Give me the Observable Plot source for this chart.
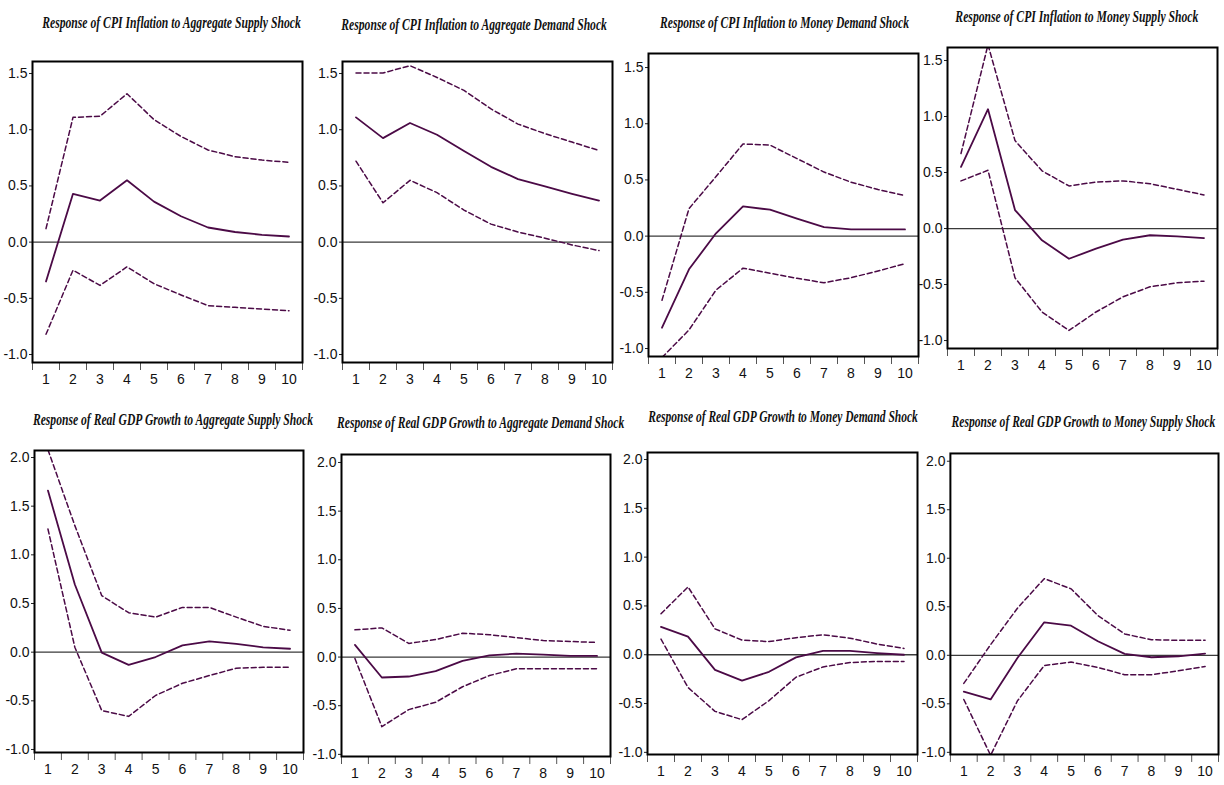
<!DOCTYPE html>
<html>
<head>
<meta charset="utf-8">
<script src="https://cdn.jsdelivr.net/npm/d3@7"></script>
<script src="https://cdn.jsdelivr.net/npm/@observablehq/plot@0.6"></script>
<style>
  html, body { margin: 0; padding: 0; background: #fff; }
  #root { position: relative; width: 1224px; height: 785px; overflow: hidden; background: #fff; }
  .panel { position: absolute; }
  .title {
    position: absolute; white-space: nowrap;
    font-family: "Liberation Serif", "Times New Roman", serif;
    font-weight: bold; font-style: italic; font-size: 17px; line-height: 17px;
    color: #111;
  }
</style>
</head>
<body>
<div id="root"></div>
<script>
// ---------- data ----------
const horizons = [1, 2, 3, 4, 5, 6, 7, 8, 9, 10];

const cpiTicks = [-1.0, -0.5, 0.0, 0.5, 1.0, 1.5];
const gdpTicks = [-1.0, -0.5, 0.0, 0.5, 1.0, 1.5, 2.0];
const xTickBounds = [0.5, 1.5, 2.5, 3.5, 4.5, 5.5, 6.5, 7.5, 8.5, 9.5, 10.5];

const titles = [
  "Response of CPI Inflation to Aggregate Supply Shock",
  "Response of CPI Inflation to Aggregate Demand Shock",
  "Response of CPI Inflation to Money Demand Shock",
  "Response of CPI Inflation to Money Supply Shock",
  "Response of Real GDP Growth to Aggregate Supply Shock",
  "Response of Real GDP Growth to Aggregate Demand Shock",
  "Response of Real GDP Growth to Money Demand Shock",
  "Response of Real GDP Growth to Money Supply Shock"
];

// CPI inflation responses
const cpiAS_resp = [-0.35, 0.43, 0.37, 0.55, 0.36, 0.23, 0.13, 0.09, 0.065, 0.05];
const cpiAS_up   = [0.12, 1.11, 1.12, 1.32, 1.09, 0.94, 0.82, 0.76, 0.73, 0.71];
const cpiAS_lo   = [-0.82, -0.25, -0.385, -0.22, -0.37, -0.47, -0.565, -0.58, -0.595, -0.61];

const cpiAD_resp = [1.11, 0.925, 1.06, 0.955, 0.81, 0.67, 0.56, 0.495, 0.43, 0.37];
const cpiAD_up   = [1.505, 1.505, 1.57, 1.465, 1.35, 1.185, 1.05, 0.965, 0.89, 0.815];
const cpiAD_lo   = [0.72, 0.35, 0.55, 0.44, 0.285, 0.16, 0.09, 0.035, -0.025, -0.075];

const cpiMD_resp = [-0.815, -0.295, 0.025, 0.265, 0.235, 0.155, 0.08, 0.06, 0.06, 0.06];
const cpiMD_up   = [-0.57, 0.245, 0.53, 0.82, 0.81, 0.69, 0.57, 0.48, 0.415, 0.36];
const cpiMD_lo   = [-1.08, -0.835, -0.48, -0.285, -0.33, -0.375, -0.415, -0.37, -0.31, -0.245];

const cpiMS_resp = [0.55, 1.065, 0.165, -0.105, -0.27, -0.18, -0.1, -0.06, -0.07, -0.085];
const cpiMS_up   = [0.67, 1.64, 0.785, 0.515, 0.38, 0.415, 0.425, 0.4, 0.35, 0.3];
const cpiMS_lo   = [0.425, 0.52, -0.44, -0.745, -0.91, -0.745, -0.61, -0.52, -0.485, -0.47];

// Real GDP growth responses
const gdpAS_resp = [1.66, 0.695, -0.005, -0.13, -0.05, 0.07, 0.11, 0.085, 0.05, 0.035];
const gdpAS_up   = [2.08, 1.3, 0.58, 0.405, 0.36, 0.46, 0.46, 0.36, 0.265, 0.225];
const gdpAS_lo   = [1.265, 0.05, -0.6, -0.66, -0.445, -0.32, -0.24, -0.165, -0.155, -0.155];

const gdpAD_resp = [0.125, -0.21, -0.2, -0.145, -0.04, 0.018, 0.035, 0.025, 0.012, 0.012];
const gdpAD_up   = [0.28, 0.3, 0.14, 0.18, 0.245, 0.23, 0.2, 0.17, 0.16, 0.15];
const gdpAD_lo   = [-0.015, -0.715, -0.54, -0.465, -0.305, -0.19, -0.12, -0.12, -0.12, -0.12];

const gdpMD_resp = [0.285, 0.185, -0.155, -0.265, -0.175, -0.027, 0.04, 0.04, 0.017, 0.0];
const gdpMD_up   = [0.42, 0.695, 0.265, 0.15, 0.135, 0.175, 0.205, 0.17, 0.11, 0.065];
const gdpMD_lo   = [0.16, -0.335, -0.58, -0.665, -0.47, -0.23, -0.125, -0.08, -0.068, -0.068];

const gdpMS_resp = [-0.375, -0.455, -0.027, 0.34, 0.305, 0.145, 0.015, -0.02, -0.01, 0.018];
const gdpMS_up   = [-0.29, 0.11, 0.485, 0.79, 0.685, 0.41, 0.22, 0.16, 0.155, 0.155];
const gdpMS_lo   = [-0.455, -1.03, -0.47, -0.105, -0.07, -0.125, -0.2, -0.2, -0.16, -0.115];

// ---------- layout (pixel geometry of each panel) ----------
const layout = [
  {frame: [32, 61, 302, 362],   title: [172, 23, 259],  dom: [-1.071, 1.607], ticks: cpiTicks},
  {frame: [342, 61, 612, 362],  title: [474, 25, 266],  dom: [-1.071, 1.607], ticks: cpiTicks},
  {frame: [648, 53, 918, 356],  title: [785, 23, 249],  dom: [-1.071, 1.625], ticks: cpiTicks},
  {frame: [947, 47, 1217, 348], title: [1077, 17, 243], dom: [-1.071, 1.616], ticks: cpiTicks},
  {frame: [34, 450, 303, 752],  title: [173, 420, 281], dom: [-1.031, 2.072], ticks: gdpTicks},
  {frame: [341, 454, 610, 756], title: [481, 423, 288], dom: [-1.022, 2.082], ticks: gdpTicks},
  {frame: [647, 452, 917, 754], title: [783, 417, 270], dom: [-1.022, 2.072], ticks: gdpTicks},
  {frame: [950, 453, 1219, 755],title: [1084, 422, 264], dom: [-1.022, 2.080], ticks: gdpTicks}
];

const series = [
  [cpiAS_resp, cpiAS_up, cpiAS_lo],
  [cpiAD_resp, cpiAD_up, cpiAD_lo],
  [cpiMD_resp, cpiMD_up, cpiMD_lo],
  [cpiMS_resp, cpiMS_up, cpiMS_lo],
  [gdpAS_resp, gdpAS_up, gdpAS_lo],
  [gdpAD_resp, gdpAD_up, gdpAD_lo],
  [gdpMD_resp, gdpMD_up, gdpMD_lo],
  [gdpMS_resp, gdpMS_up, gdpMS_lo]
];

const lineColor = "#4b0a46";
const root = document.getElementById("root");
const canvas = document.createElement("canvas");
const ctx = canvas.getContext("2d");
ctx.font = 'italic bold 17px "Liberation Serif", "Times New Roman", serif';

const mL = 34, mT = 12, mR = 6, mB = 30;

layout.forEach((L, i) => {
  const [fx0, fy0, fx1, fy1] = L.frame;
  const [resp, up, lo] = series[i];
  const toRows = arr => horizons.map((h, k) => ({h, v: arr[k]}));

  const plot = Plot.plot({
    width: (fx1 - fx0) + mL + mR,
    height: (fy1 - fy0) + mT + mB,
    marginLeft: mL, marginTop: mT, marginRight: mR, marginBottom: mB,
    style: {fontFamily: '"Liberation Sans Narrow", "Arial Narrow", "Liberation Sans", sans-serif', fontSize: "14px", color: "#111", background: "transparent", overflow: "visible"},
    x: {domain: [0.5, 10.5], axis: null},
    y: {domain: L.dom, axis: null},
    marks: [
      Plot.ruleY([0], {stroke: "#3a3a3a", strokeWidth: 1.3}),
      Plot.line(toRows(up), {x: "h", y: "v", stroke: lineColor, strokeWidth: 1.5, strokeDasharray: "5,3", clip: true}),
      Plot.line(toRows(lo), {x: "h", y: "v", stroke: lineColor, strokeWidth: 1.5, strokeDasharray: "5,3", clip: true}),
      Plot.line(toRows(resp), {x: "h", y: "v", stroke: lineColor, strokeWidth: 1.8, clip: true}),
      Plot.axisY({ticks: L.ticks, tickFormat: d => d.toFixed(1), tickSize: 3, tickPadding: 2, stroke: "#222", fill: "#111", label: null}),
      Plot.axisX({ticks: xTickBounds, tickFormat: () => "", tickSize: 8, stroke: "#555", label: null}),
      Plot.axisX({ticks: horizons, tickFormat: d => String(d), tickSize: 0, tickPadding: 12, fill: "#111", label: null}),
      Plot.frame({stroke: "#000", strokeWidth: 2})
    ]
  });

  const wrap = document.createElement("div");
  wrap.className = "panel";
  wrap.style.left = (fx0 - mL) + "px";
  wrap.style.top = (fy0 - mT) + "px";
  wrap.appendChild(plot);
  root.appendChild(wrap);

  // title, condensed horizontally to match the reference width
  const [cx, cy, tw] = L.title;
  const t = document.createElement("div");
  t.className = "title";
  t.textContent = titles[i];
  const w = ctx.measureText(titles[i]).width;
  const s = tw / w;
  t.style.left = (cx - w / 2) + "px";
  t.style.top = (cy - 9) + "px";
  t.style.width = w + "px";
  t.style.transform = `scaleX(${s})`;
  t.style.transformOrigin = "50% 50%";
  root.appendChild(t);
});
</script>
</body>
</html>
